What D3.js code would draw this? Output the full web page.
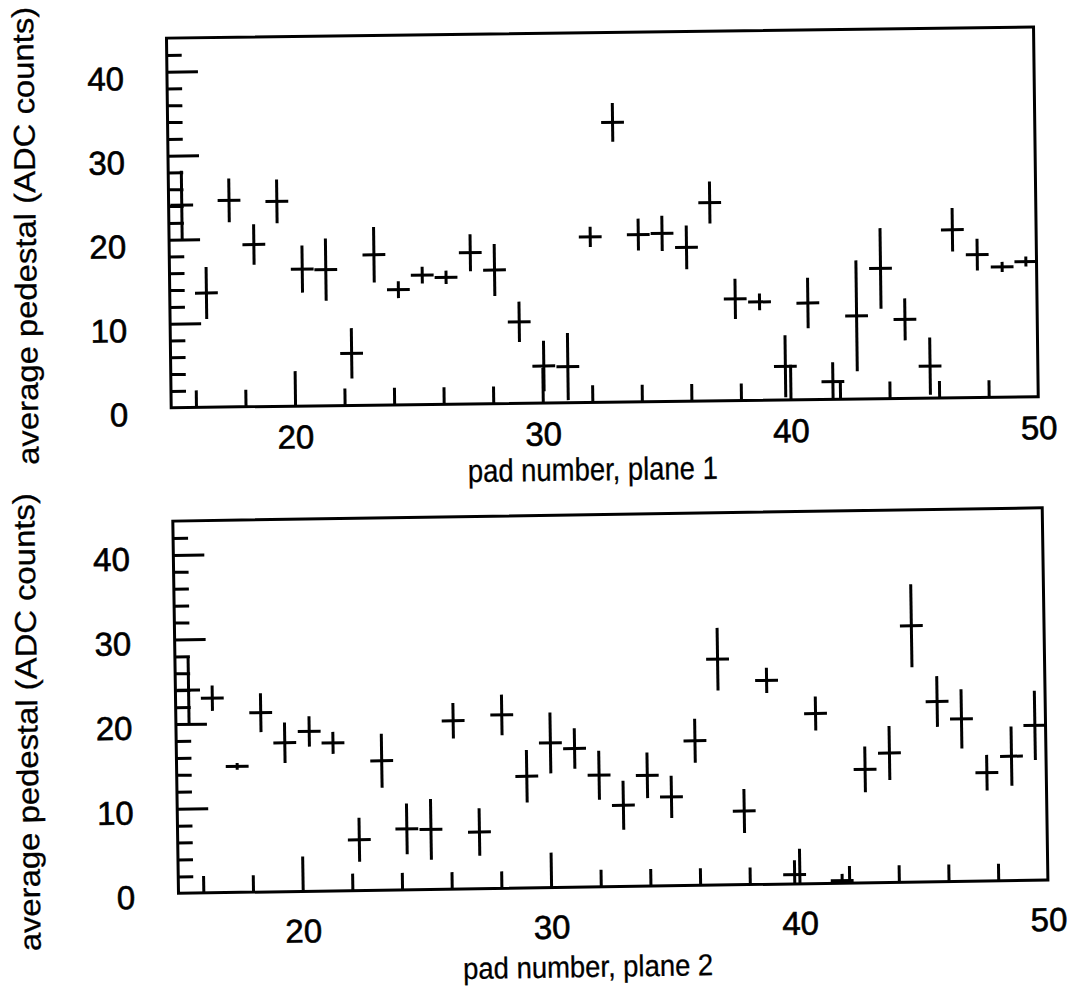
<!DOCTYPE html>
<html>
<head>
<meta charset="utf-8">
<script src="https://cdn.jsdelivr.net/npm/d3@7"></script>
<style>
  html, body { margin: 0; padding: 0; background: #fff; }
  svg { display: block; }
  text { font-family: "Liberation Sans", Arial, Helvetica, sans-serif; fill: #000; }
</style>
</head>
<body>
<svg id="chart" width="1078" height="987"></svg>
<script>
// Pad positions (centre of each readout pad) shared by both planes
const padPos = [15.53, 16.48, 17.44, 18.42, 19.37, 20.36, 21.31, 22.31, 23.26, 24.23,
                25.20, 26.16, 27.15, 28.12, 29.09, 30.06, 31.03, 32.00, 32.96, 33.94,
                34.90, 35.88, 36.84, 37.82, 38.80, 39.81, 40.75, 41.72, 42.71, 43.70,
                44.66, 45.65, 46.62, 47.61, 48.61, 49.57];

// Plane 1: average pedestal and its uncertainty (ADC counts)
const plane1Mean = [24.1, 13.6, 24.6, 19.3, 24.4, 16.3, 16.2, 6.2, 17.9, 13.7,
                    15.4, 15.1, 18.0, 15.9, 9.7, 4.4, 4.3, 19.7, 33.3, 19.9,
                    20.0, 18.3, 23.6, 12.1, 11.7, 4.0, 11.5, 2.1, 9.9, 15.5,
                    9.4, 3.8, 20.0, 17.0, 15.5, 16.1];
const plane1Err  = [4.1, 3.1, 2.6, 2.4, 2.6, 2.8, 3.7, 3.0, 3.3, 1.0,
                    1.0, 0.8, 2.2, 3.1, 2.4, 3.0, 4.0, 1.2, 2.3, 1.9,
                    2.1, 2.6, 2.5, 2.4, 1.0, 3.7, 3.0, 2.3, 6.6, 4.8,
                    2.5, 3.4, 2.6, 1.9, 0.6, 0.6];

// Plane 2: average pedestal and its uncertainty (ADC counts)
const plane2Mean = [24.0, 23.0, 14.9, 21.2, 17.6, 18.9, 17.5, 6.0, 15.3, 7.2,
                    7.1, 19.9, 6.7, 20.5, 13.2, 17.1, 16.4, 13.2, 9.6, 13.1,
                    10.5, 17.1, 26.7, 8.7, 24.1, 1.1, 20.1, 0.3, 13.4, 15.3,
                    30.3, 21.3, 19.2, 12.8, 14.7, 18.3];
const plane2Err  = [3.9, 1.5, 0.4, 2.3, 2.4, 1.8, 1.3, 2.6, 3.2, 3.0,
                    3.6, 2.1, 2.8, 2.4, 3.1, 3.6, 2.4, 2.9, 2.9, 2.7,
                    2.5, 2.6, 3.7, 2.6, 1.5, 1.7, 2.0, 0.8, 2.7, 3.2,
                    4.9, 3.0, 3.5, 2.1, 3.5, 4.1];

// Axis ranges and labels
const xDomain = [15, 50];
const yDomain = [0, 44];
const xMajorTicks = [20, 30, 40, 50];
const yMajorTicks = [0, 10, 20, 30, 40];
const padHalfWidth = 0.46;
const xTitles = ["pad number, plane 1", "pad number, plane 2"];
const yTitle = "average pedestal (ADC counts)";

// Geometry of the two stacked panels
const panels = [
  { mean: plane1Mean, err: plane1Err, xTitle: xTitles[0],
    left: 171.2, right: 1038.3, bottom: 407.7, pxPerUnit: 8.4, tilt: -0.73,
    xLabelDy: 42.5, xTitleX: 592, xTitleDy: 78, xTitleSize: 32,
    yLabelGap: 43, yLabelDy: 6, yTitleX: 38, yTitleY: 234 },
  { mean: plane2Mean, err: plane2Err, xTitle: xTitles[1],
    left: 178.5, right: 1048, bottom: 893.3, pxPerUnit: 8.46, tilt: -0.875,
    xLabelDy: 51, xTitleX: 587, xTitleDy: 90, xTitleSize: 30,
    yLabelGap: 43.5, yLabelDy: 3, yTitleX: 40, yTitleY: 720 }
];

const svg = d3.select("#chart");
const LW = 3;

panels.forEach(p => {
  const x = d3.scaleLinear().domain(xDomain).range([p.left, p.right]);
  const y = d3.scaleLinear().domain(yDomain)
              .range([p.bottom, p.bottom - (yDomain[1] - yDomain[0]) * p.pxPerUnit]);

  const g = svg.append("g")
    .attr("transform", `rotate(${p.tilt}, ${p.left}, ${p.bottom})`);

  // minor ticks every 2 units, major ticks every 10
  const xMinor = d3.range(16, 50, 2).filter(v => v % 10 !== 0);
  const yMinor = d3.range(2, 44, 2).filter(v => v % 10 !== 0);

  const xMinorAxis = d3.axisBottom(x).tickValues(xMinor).tickSize(-17).tickFormat("");
  const xMajorAxis = d3.axisBottom(x).tickValues(xMajorTicks).tickSize(-35)
                        .tickPadding(p.xLabelDy).tickFormat(d3.format("d"));
  const yMinorAxis = d3.axisLeft(y).tickValues(yMinor).tickSize(-15).tickFormat("");
  const yMajorAxis = d3.axisLeft(y).tickValues(yMajorTicks).tickSize(-31)
                        .tickPadding(p.yLabelGap).tickFormat(d3.format("d"));

  const axG = g.append("g").attr("transform", `translate(0,${p.bottom})`);
  axG.append("g").call(xMinorAxis);
  axG.append("g").call(xMajorAxis);
  const ayG = g.append("g").attr("transform", `translate(${p.left},0)`);
  ayG.append("g").call(yMinorAxis);
  ayG.append("g").call(yMajorAxis);

  g.selectAll(".domain").remove();
  g.selectAll(".tick line").attr("stroke", "#000").attr("stroke-width", LW);
  g.selectAll(".tick text")
    .attr("font-size", 33)
    .attr("font-family", "\"Liberation Sans\", Arial, Helvetica, sans-serif")
    .attr("fill", "#000")
    .attr("stroke", "#000").attr("stroke-width", 0.6);
  // x labels: baseline placed below the axis line
  axG.selectAll(".tick text").attr("dy", null).attr("y", p.xLabelDy);
  // the 50 tick coincides with the frame edge; hide its line
  axG.selectAll(".tick").filter(d => d === 50).select("line").remove();
  ayG.selectAll(".tick text").attr("dy", null)
     .attr("dominant-baseline", "central").attr("y", p.yLabelDy);
  ayG.selectAll(".tick").filter(d => d === 0).select("line").remove();

  // frame
  g.append("rect")
    .attr("x", x(xDomain[0])).attr("y", y(yDomain[1]))
    .attr("width", x(xDomain[1]) - x(xDomain[0]))
    .attr("height", y(yDomain[0]) - y(yDomain[1]))
    .attr("fill", "none").attr("stroke", "#000").attr("stroke-width", LW);

  // error-bar crosses
  const pts = padPos.map((pos, i) => ({ pos, m: p.mean[i], e: p.err[i] }));
  const clampX = v => Math.max(xDomain[0], Math.min(xDomain[1], v));
  const clampY = v => Math.max(yDomain[0], Math.min(yDomain[1], v));
  const marks = g.append("g").attr("stroke", "#000").attr("stroke-width", LW);
  marks.selectAll("line.v").data(pts).join("line").attr("class", "v")
    .attr("x1", d => x(d.pos)).attr("x2", d => x(d.pos))
    .attr("y1", d => y(clampY(d.m - d.e))).attr("y2", d => y(clampY(d.m + d.e)));
  marks.selectAll("line.h").data(pts).join("line").attr("class", "h")
    .attr("x1", d => x(clampX(d.pos - padHalfWidth)))
    .attr("x2", d => x(clampX(d.pos + padHalfWidth)))
    .attr("y1", d => y(d.m)).attr("y2", d => y(d.m));

  // axis titles
  g.append("text")
    .attr("x", p.xTitleX)
    .attr("y", p.bottom + p.xTitleDy)
    .attr("text-anchor", "middle")
    .attr("font-size", p.xTitleSize)
    .attr("stroke", "#000").attr("stroke-width", 0.3)
    .attr("textLength", 250).attr("lengthAdjust", "spacingAndGlyphs")
    .text(p.xTitle);

  g.append("text")
    .attr("transform", `translate(${p.yTitleX},${p.yTitleY}) rotate(-90)`)
    .attr("text-anchor", "middle")
    .attr("font-size", 30)
    .attr("stroke", "#000").attr("stroke-width", 0.3)
    .attr("textLength", 458).attr("lengthAdjust", "spacingAndGlyphs")
    .text(yTitle);
});
</script>
</body>
</html>
